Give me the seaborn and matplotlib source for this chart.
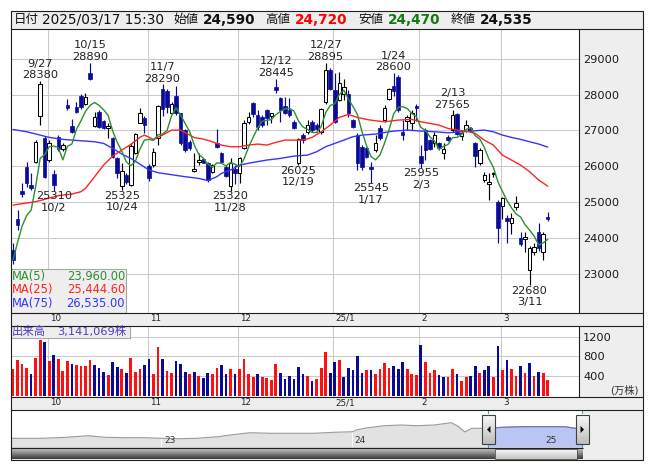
import numpy as np
import pandas as pd
import matplotlib
matplotlib.use("Agg")
import matplotlib.pyplot as plt
import matplotlib.dates as mdates
import matplotlib.transforms as mtransforms
from matplotlib.colors import LinearSegmentedColormap
from matplotlib.patches import Rectangle, Polygon
import seaborn as sns

# ---------------------------------------------------------------- data
first_day = "2024-09-18"
last_day = "2025-03-17"
close_time = "15:30"
holidays = ["2024-09-23", "2024-10-14", "2024-11-04", "2024-12-31",
            "2025-01-01", "2025-01-02", "2025-01-03", "2025-01-13",
            "2025-02-11", "2025-02-24"]

opens = [23650, 24520, 25320, 25990, 25490, 26130, 27400, 26800, 26170, 25780,
         26820, 26480, 27710, 27120, 27660, 27975, 27735, 28590, 27130, 27520,
         27270, 27055, 26780, 26220, 25450, 25750, 25480, 26360, 27215, 27335,
         26005, 26035, 26775, 28150, 28100, 27500, 27960, 27475, 27010, 26685,
         25860, 26125, 26190, 26080, 25850, 26640, 26360, 25990, 25450, 25910,
         25800, 26500, 27240, 27770, 27430, 27365, 27570, 27400, 28220, 27895,
         27680, 27560, 27240, 26080, 26870, 26965, 27240, 27150, 26965, 27800,
         28700, 28125, 27850, 28030, 28030, 27290, 26870, 26545, 26500, 25980,
         26450, 27075, 27290, 27890, 28240, 28500, 26965, 27270, 27195, 27680,
         26285, 27010, 26730, 26640, 26640, 26380, 26825, 27010, 27455, 26840,
         26990, 27055, 26640, 26080, 25615, 25500, 25780, 25010, 24890, 24550,
         24425, 24870, 23990, 23960, 23105, 23615, 24175, 23615, 24590]
highs = [23850, 24780, 25520, 26130, 25800, 26730, 28380, 26840, 26730, 25890,
         26870, 26640, 27890, 27310, 27800, 28030, 28050, 28890, 27520, 27570,
         27300, 27200, 26830, 26250, 26100, 25800, 26650, 26930, 27640, 27400,
         26070, 26500, 27700, 28290, 28150, 27800, 28230, 27500, 27050, 26720,
         26380, 26370, 26230, 26120, 26060, 27030, 26400, 26030, 26220, 26030,
         26260, 27290, 27520, 27800, 27570, 27430, 27590, 27480, 28445, 27940,
         27940, 27900, 27290, 26800, 26920, 27300, 27290, 27200, 27620, 28895,
         28730, 28590, 28640, 28450, 28120, 27330, 26920, 26590, 26550, 26130,
         26870, 27150, 27700, 28180, 28600, 28560, 27290, 27420, 27560, 27740,
         26590, 27060, 26760, 26960, 26680, 26640, 26870, 27565, 27480, 27010,
         27290, 27100, 26680, 26500, 25840, 25820, 25830, 25060, 25150, 24640,
         24700, 25180, 24170, 24170, 23760, 23850, 24420, 24170, 24720]
lows = [23280, 24220, 25150, 25430, 25350, 26080, 27150, 25660, 26130, 25310,
        26430, 26430, 27570, 26935, 27475, 27610, 27705, 28400, 27100, 27055,
        27030, 26780, 26230, 25660, 25325, 25500, 25450, 26330, 27195, 26920,
        25600, 25990, 26590, 27400, 27500, 27480, 27430, 26600, 26400, 26450,
        25850, 26030, 26080, 25570, 25820, 26500, 26100, 25700, 25320, 25500,
        25520, 26470, 27190, 27380, 27010, 27100, 27150, 27200, 28050, 27240,
        27470, 27380, 27050, 26025, 26640, 26900, 26960, 26960, 26900, 27750,
        28120, 27200, 27830, 27850, 27380, 27080, 25900, 25900, 26230, 25545,
        26400, 26730, 27240, 27850, 27950, 27520, 26730, 27000, 27000, 27250,
        25955, 26170, 26440, 26540, 26450, 26190, 26700, 26960, 26880, 26730,
        26960, 26960, 25985, 26030, 25570, 25055, 25710, 23850, 24540, 23850,
        24100, 24790, 23780, 23610, 22680, 23520, 23640, 23380, 24470]
closes = [23380, 24360, 25225, 25520, 25380, 26685, 28310, 25710, 26640, 25475,
          26470, 26590, 27615, 26965, 27520, 27660, 27920, 28425, 27380, 27105,
          27055, 27120, 26265, 25800, 25880, 25560, 26560, 26890, 27495, 27150,
          25660, 26405, 27680, 27600, 27650, 27750, 27475, 26640, 26450, 26500,
          25910, 26175, 26100, 25615, 26035, 26545, 26125, 25730, 26080, 25800,
          26220, 27215, 27365, 27455, 27105, 27150, 27335, 27475, 28125, 27570,
          27495, 27420, 27075, 26760, 26730, 27150, 27010, 27050, 27595, 28685,
          28145, 27240, 28330, 28220, 27475, 27105, 26080, 25990, 26265, 25920,
          26640, 26775, 27640, 28145, 28100, 27570, 26870, 27365, 27475, 27640,
          26080, 26450, 26480, 26870, 26500, 26470, 26730, 27430, 26900, 26935,
          27150, 26990, 26285, 26450, 25755, 25570, 25800, 24265, 25105, 24480,
          24545, 24965, 23820, 24035, 23710, 23735, 23720, 24100, 24535]
close_before = 23050  # last close ahead of the window

# volume in units of 10,000 shares
volumes = [548, 718, 636, 555, 433, 758, 1124, 1083, 697, 819,
           738, 494, 697, 636, 616, 596, 596, 718, 616, 569,
           474, 413, 677, 575, 535, 454, 758, 474, 535, 616,
           738, 433, 982, 738, 494, 454, 697, 636, 474, 433,
           474, 393, 352, 454, 433, 555, 616, 433, 535, 433,
           535, 738, 433, 372, 433, 372, 352, 311, 636, 454,
           332, 393, 332, 575, 433, 393, 291, 332, 555, 887,
           460, 677, 718, 379, 555, 515, 799, 460, 515, 515,
           433, 535, 663, 555, 596, 535, 677, 535, 433, 413,
           1022, 677, 460, 515, 413, 372, 372, 535, 433, 291,
           372, 393, 596, 460, 515, 596, 372, 1002, 515, 718,
           535, 393, 596, 460, 657, 393, 474, 460, 314.1069]

ma25_idx = [0, 5, 10, 13, 15, 16, 18, 20, 22, 24, 26, 28, 29, 31, 33, 35, 37, 39,
            40, 42, 44, 46, 48, 50, 52, 54, 56, 58, 60, 62, 64, 66, 68, 70, 72, 74,
            76, 78, 80, 82, 85, 88, 90, 92, 94, 96, 98, 100, 102, 104, 106, 108,
            110, 112, 114, 116, 118]
ma25_val = [24917, 25010, 25178, 25224, 25290, 25382, 25708, 26033, 26284, 26452,
            26610, 26805, 26870, 26750, 26870, 27010, 27010, 26870, 26800, 26760,
            26684, 26591, 26545, 26545, 26591, 26620, 26591, 26666, 26730, 26730,
            26730, 26805, 26963, 27149, 27363, 27447, 27363, 27307, 27270, 27242,
            27289, 27307, 27242, 27196, 27149, 27056, 27010, 26982, 26917, 26730,
            26591, 26312, 26173, 26033, 25847, 25615, 25444.6]
ma75_idx = [0, 3, 6, 8, 11, 15, 18, 20, 22, 24, 26, 28, 30, 32, 35, 38, 41, 43,
            45, 46, 48, 50, 53, 56, 59, 62, 65, 67, 69, 71, 73, 75, 77, 80, 83, 84,
            87, 90, 93, 96, 99, 102, 104, 106, 108, 110, 112, 114, 116, 118]
ma75_val = [27028, 26963, 26870, 26805, 26750, 26712, 26684, 26638, 26498, 26340,
            26219, 26061, 25894, 25820, 25764, 25708, 25661, 25600, 25710, 25801,
            25894, 26033, 26108, 26173, 26219, 26284, 26312, 26405, 26545, 26638,
            26730, 26824, 26870, 26898, 26963, 26982, 27010, 26982, 26963, 26935,
            26963, 26991, 27010, 26963, 26870, 26805, 26750, 26684, 26620, 26535]

peak_dates = ["2024-09-27", "2024-10-15", "2024-11-07", "2024-12-12",
              "2024-12-27", "2025-01-24", "2025-02-13"]
trough_dates = ["2024-10-02", "2024-10-24", "2024-11-28", "2024-12-19",
                "2025-01-17", "2025-02-03", "2025-03-11"]

# long-range overview line for the navigator strip
nav_dates = ["2022-03-19", "2022-05-17", "2022-07-04", "2022-08-14", "2022-09-16",
             "2022-10-25", "2022-12-03", "2023-01-01", "2023-01-30", "2023-03-11",
             "2023-04-20", "2023-05-18", "2023-06-20", "2023-07-30", "2023-09-10",
             "2023-10-20", "2023-11-28", "2024-01-04", "2024-01-09", "2024-02-01",
             "2024-03-04", "2024-04-05", "2024-05-06", "2024-06-07", "2024-07-10",
             "2024-07-22", "2024-08-05", "2024-08-18", "2024-09-16", "2024-10-15",
             "2024-11-24", "2025-01-04", "2025-02-12", "2025-03-17"]
nav_vals = [18770, 18770, 19410, 20430, 19410, 19150, 19150, 18770, 18510, 18770,
            19790, 21070, 22350, 21970, 21970, 21970, 22610, 22990, 24080, 25550,
            26830, 27280, 26830, 27280, 28750, 26640, 22800, 25170, 25170, 25810,
            26190, 26190, 26190, 24530]

# ---------------------------------------------------------------- style
sns.set_theme(style="white")
plt.rcParams["font.family"] = ["DejaVu Sans", "Noto Sans CJK JP"]

DOWN = "#0A0A9A"
VOL_UP = "#FF1010"
VOL_DN = "#0A0A96"
GRID = "#CACACA"
PANEL = "#EEEEEE"
LINE = "#202020"
TXT = "#1A1A1A"

dates = pd.bdate_range(first_day, last_day, freq="C", holidays=holidays)
n = len(dates)
idx = np.arange(n)
o = np.array(opens, float)
h = np.array(highs, float)
l = np.array(lows, float)
c = np.array(closes, float)
vol = np.array(volumes, float)
ma5 = pd.Series(c).rolling(5, min_periods=1).mean().to_numpy()
prev_close = np.r_[close_before, c[:-1]]
vol_up = c >= prev_close

month_first = [i for i in range(1, n) if dates[i].month != dates[i - 1].month]
month_lbl = [f"{dates[i]:%y}/1" if dates[i].month == 1 else str(dates[i].month)
             for i in month_first]

# ---------------------------------------------------------------- layout (pixels)
W, H = 653, 470
L, R, SEP = 10.5, 643.0, 579.0
TOP, HEAD_B, MAIN_B = 10.7, 29.3, 312.7
VOL_T, VOL_B = 325.7, 397.3
NAV_T, NAV_B, BOT = 410.0, 448.0, 459.5

fig = plt.figure(figsize=(W / 100, H / 100), dpi=100, facecolor="white")


def frac(x0, y0, x1, y1):
    return [x0 / W, 1 - y1 / H, (x1 - x0) / W, (y1 - y0) / H]


bg = fig.add_axes([0, 0, 1, 1])
bg.set_xlim(0, W)
bg.set_ylim(H, 0)
bg.axis("off")
bg.add_patch(Rectangle((L, TOP), R - L, BOT - TOP, facecolor=PANEL, edgecolor="none"))

ax = fig.add_axes(frac(L, HEAD_B, SEP, MAIN_B))
axv = fig.add_axes(frac(L, VOL_T, SEP, VOL_B))
axn = fig.add_axes(frac(L, NAV_T, R, NAV_B))
top = fig.add_axes([0, 0, 1, 1])
top.set_facecolor("none")
top.axis("off")

for a in (ax, axv, axn):
    a.set_facecolor("white")
    for sp in a.spines.values():
        sp.set_visible(False)
    a.set_xticks([])

# ---------------------------------------------------------------- price panel
ax.set_xlim(-0.55, 124.9)
ax.set_ylim(21911, 29824)
for yv in range(23000, 30000, 1000):
    ax.axhline(yv, color=GRID, lw=0.75, zorder=0)
for m in month_first:
    ax.axvline(m - 0.3, color=GRID, lw=0.75, zorder=0)

up = c >= o
diff = np.abs(c - o)
body_h = np.maximum(diff, 18)
body_lo = np.where(diff < 18, (o + c) / 2 - 9, np.minimum(o, c))
ax.vlines(idx[up], l[up], h[up], color="black", lw=0.85, zorder=2)
ax.vlines(idx[~up], l[~up], h[~up], color=DOWN, lw=0.85, zorder=2)
ax.bar(idx[up], body_h[up], bottom=body_lo[up], width=0.78, color="white",
       edgecolor="black", linewidth=0.75, zorder=3)
ax.bar(idx[~up], body_h[~up], bottom=body_lo[~up], width=0.78, color=DOWN,
       edgecolor=DOWN, linewidth=0.5, zorder=3)

MA5_C, MA25_C, MA75_C = "#2F8F2F", "#FF2424", "#3535FF"
sns.lineplot(x=ma75_idx, y=ma75_val, ax=ax, color=MA75_C, lw=1.0, zorder=4)
sns.lineplot(x=ma25_idx, y=ma25_val, ax=ax, color=MA25_C, lw=1.0, zorder=4)
sns.lineplot(x=idx, y=ma5, ax=ax, color=MA5_C, lw=1.0, zorder=4)
ax.set_xlabel("")
ax.set_ylabel("")
ax.set_xlim(-0.55, 124.9)
ax.set_ylim(21911, 29824)

ax.set_yticks(range(23000, 30000, 1000))
ax.yaxis.set_ticks_position("right")
ax.tick_params(axis="y", length=0, pad=2.7, labelsize=8.2, labelcolor=TXT,
               left=False, labelleft=False, right=False, labelright=True)

for d in peak_dates:
    i = dates.get_loc(pd.Timestamp(d))
    ax.annotate(f"{dates[i].month}/{dates[i].day}\n{h[i]:.0f}", xy=(i, h[i]),
                xytext=(0, 0.5), textcoords="offset points", ha="center",
                va="bottom", fontsize=8.2, linespacing=1.2, color="#222222",
                multialignment="center", zorder=6)
for d in trough_dates:
    i = dates.get_loc(pd.Timestamp(d))
    ax.annotate(f"{l[i]:.0f}\n{dates[i].month}/{dates[i].day}", xy=(i, l[i]),
                xytext=(0, -0.3), textcoords="offset points", ha="center",
                va="top", fontsize=8.2, linespacing=1.2, color="#222222",
                multialignment="center", zorder=6)

# ---------------------------------------------------------------- volume panel
axv.set_xlim(-0.55, 124.9)
axv.set_ylim(-30, 1420)
for yv in (400, 800, 1200):
    axv.axhline(yv, color=GRID, lw=0.75, zorder=0)
for m in month_first:
    axv.axvline(m - 0.3, color=GRID, lw=0.75, zorder=0)
axv.bar(idx, vol, width=0.6, color=np.where(vol_up, VOL_UP, VOL_DN), linewidth=0, zorder=2)
axv.set_yticks([400, 800, 1200])
axv.yaxis.set_ticks_position("right")
axv.tick_params(axis="y", length=0, pad=2.9, labelsize=8.2, labelcolor=TXT,
                left=False, labelleft=False, right=False, labelright=True)

# ---------------------------------------------------------------- navigator
nd = mdates.date2num(pd.to_datetime(nav_dates))
nv = np.array(nav_vals, float)
start_num = mdates.date2num(dates[0])
end_num = mdates.date2num(dates[-1])
ppd = 190.8 / 365.25
END_PX = 582.0
nx0 = end_num - (END_PX - L) / ppd
axn.set_xlim(nx0, end_num + (R - END_PX) / ppd)
axn.set_ylim(12560, 36880)
axn.set_yticks([])
axn.set_facecolor(PANEL)
ny0, ny1 = axn.get_ylim()
axn.fill_between(nd, nv, ny1, color="white", lw=0, zorder=1)
axn.fill_between(nd, ny0, nv, color="#E2E2E2", lw=0, zorder=1)
for yr in (2023, 2024, 2025):
    axn.axvline(mdates.date2num(pd.Timestamp(f"{yr}-01-01")), color="white", lw=0.8, zorder=1.5)
clip = Rectangle((start_num, ny0), end_num - start_num, ny1 - ny0, transform=axn.transData)
sel = axn.fill_between(nd, ny0, nv, color="#B9C6F3", lw=0, zorder=2)
sel.set_clip_path(clip)
sns.lineplot(x=nd, y=nv, ax=axn, color="#9A9A9A", lw=0.8, zorder=3)
sel_line = axn.plot(nd, nv, color="#6E72C8", lw=0.8, zorder=4)[0]
sel_line.set_clip_path(clip)
axn.set_xlabel("")
axn.set_ylabel("")


def nav_px(num):
    return L + (num - nx0) * ppd


# ---------------------------------------------------------------- overlay: frames, header, labels
top.set_xlim(0, W)
top.set_ylim(H, 0)

# scrollbar under the navigator
def gradient(x0, x1, y0, y1, c0, c1, z):
    cmap = LinearSegmentedColormap.from_list("g", [c0, c1])
    g = np.linspace(0, 1, 64).reshape(-1, 1)
    top.imshow(g, extent=(x0, x1, y1, y0), aspect="auto", cmap=cmap,
               interpolation="bilinear", zorder=z)

sx0, sx1 = nav_px(start_num), nav_px(end_num)
gradient(L, sx1, NAV_B, BOT, "#D8D8D8", "#3A3A3A", 2)
gradient(sx0 + 7, sx1 - 5.5, NAV_B + 0.5, BOT - 0.5, "#FFFFFF", "#C4C4C4", 3)
top.add_patch(Rectangle((sx0 + 7, NAV_B + 0.5), sx1 - 5.5 - sx0 - 7, BOT - NAV_B - 1,
                        fill=False, edgecolor="#505050", lw=0.6, zorder=3.5))

# selection edges and handles
for xe in (sx0, sx1):
    top.plot([xe, xe], [NAV_T, NAV_B], color="#3AA0E0", lw=0.8, zorder=4)
for xe, sgn in ((sx0 + 1, -1), (sx1, 1)):
    gradient(xe - 6.5, xe + 6.5, 415, 444.3, "#FAFAFA", "#BDBDBD", 5)
    top.add_patch(Rectangle((xe - 6.5, 415), 13, 29.3, fill=False,
                            edgecolor="#404040", lw=0.8, zorder=5.5))
    top.add_patch(Polygon([[xe + sgn * 2, 429.5], [xe - sgn * 1.5, 426],
                           [xe - sgn * 1.5, 433]], closed=True,
                          facecolor="black", edgecolor="none", zorder=6))

ntrans = mtransforms.blended_transform_factory(axn.transData, top.transData)
for yr in (2023, 2024, 2025):
    top.text(mdates.date2num(pd.Timestamp(f"{yr}-01-01")) + 3 / ppd, 440.5, f"{yr % 100}",
             transform=ntrans, fontsize=6.5, color="#333333", va="center", ha="left", zorder=7)

# month labels in the two date strips
mtrans = mtransforms.blended_transform_factory(ax.transData, top.transData)
for m, lab in zip(month_first, month_lbl):
    for ys in (318.3, 402.5):
        top.text(m - 0.3 + 0.45, ys, lab, transform=mtrans, fontsize=6.3,
                 color="#222222", ha="left", va="center", zorder=7)

# panel outlines
lk = dict(color=LINE, lw=0.8, zorder=8, solid_capstyle="butt")
top.add_patch(Rectangle((L, TOP), R - L, BOT - TOP, fill=False, edgecolor=LINE, lw=0.8, zorder=8))
for yy in (HEAD_B, MAIN_B, VOL_T, VOL_B, NAV_T):
    top.plot([L, R], [yy, yy], **lk)
top.plot([L, sx1 + 1], [NAV_B, NAV_B], **lk)
top.plot([SEP, SEP], [HEAD_B, MAIN_B], **lk)
top.plot([SEP, SEP], [VOL_T, VOL_B], **lk)

# header line
hy = 19.6
hdr = [
    ("日付", 13.5, dict(fontsize=9.0, color="#111111")),
    (f"{dates[-1]:%Y/%m/%d} {close_time}", 41.5, dict(fontsize=9.8, color="#111111")),
    ("始値", 173.5, dict(fontsize=9.0, color="#111111")),
    (f"{o[-1]:,.0f}", 202.5, dict(fontsize=9.8, color="#111111", fontweight="bold")),
    ("高値", 265.5, dict(fontsize=9.0, color="#111111")),
    (f"{h[-1]:,.0f}", 294.5, dict(fontsize=9.8, color="#FF0000", fontweight="bold")),
    ("安値", 358.5, dict(fontsize=9.0, color="#111111")),
    (f"{l[-1]:,.0f}", 387.5, dict(fontsize=9.8, color="#127A12", fontweight="bold")),
    ("終値", 450.5, dict(fontsize=9.0, color="#111111")),
    (f"{c[-1]:,.0f}", 479.5, dict(fontsize=9.8, color="#111111", fontweight="bold")),
]
for s, x, kw in hdr:
    top.text(x, hy, s, ha="left", va="center", zorder=9, **kw)

# moving-average readout box
top.add_patch(Rectangle((L, 269.3), 126 - L, MAIN_B - 269.3, facecolor=PANEL,
                        edgecolor="#A8A8A8", lw=0.8, zorder=7))
for (name, val, col), yy in zip((("MA(5)", ma5[-1], MA5_C),
                                 ("MA(25)", ma25_val[-1], MA25_C),
                                 ("MA(75)", ma75_val[-1], MA75_C)),
                                (276.3, 290.0, 303.6)):
    top.text(11.8, yy, name, color=col, fontsize=8.3, ha="left", va="center", zorder=8)
    top.text(125, yy, f"{val:,.2f}", color=col, fontsize=8.3, ha="right", va="center", zorder=8)

# volume readout box
top.add_patch(Rectangle((L, VOL_T), 130 - L, 338.3 - VOL_T, facecolor=PANEL,
                        edgecolor="#A8A8A8", lw=0.8, zorder=7))
top.text(11.8, 332.0, "出来高", color="#4C3CC4", fontsize=8.2, ha="left", va="center", zorder=8)
top.text(57.5, 332.0, f"{round(vol[-1] * 1e4):,}株", color="#4C3CC4", fontsize=8.2,
         ha="left", va="center", zorder=8)
top.text(639, 390.0, "(万株)", color="#333333", fontsize=7.4, ha="right", va="center", zorder=8)

top.set_xlim(0, W)
top.set_ylim(H, 0)

fig.savefig("out.png", dpi=100, facecolor="white")
